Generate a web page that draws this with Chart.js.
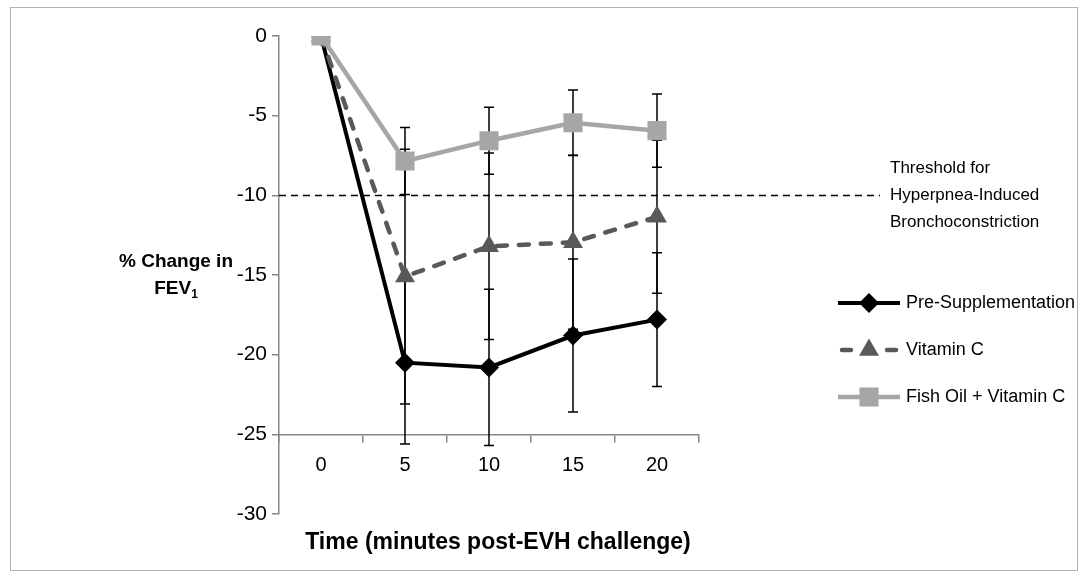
<!DOCTYPE html>
<html>
<head>
<meta charset="utf-8">
<script src="https://cdn.jsdelivr.net/npm/chart.js@4.4.0/dist/chart.umd.min.js"></script>
<style>
  html, body { margin: 0; padding: 0; background: #fff; }
</style>
</head>
<body>
<canvas id="chart" width="1087" height="578"></canvas>
<script>
// time points (minutes post-EVH challenge)
const timeLabels = ['0', '5', '10', '15', '20'];

// % change in FEV1, mean and error per group
const preValues = [0, -20.5, -20.8, -18.8, -17.8];
const preErrors = [0, 5.1, 4.9, 4.8, 4.2];
const vitCValues = [0, -15.1, -13.2, -12.95, -11.35];
const vitCErrors = [0, 8.0, 5.85, 5.45, 4.8];
const fishValues = [0, -7.85, -6.57, -5.44, -5.94];
const fishErrors = [0, 2.1, 2.1, 2.05, 2.3];

const seriesNames = ['Pre-Supplementation', 'Vitamin C', 'Fish Oil + Vitamin C'];
const thresholdValue = -10;
const thresholdText = ['Threshold for', 'Hyperpnea-Induced', 'Bronchoconstriction'];
const yMin = -30, yMax = 0, yStep = 5;
const xAxisCrossing = -25;

const FONT = '"Liberation Sans", Arial, sans-serif';
const AXIS_GRAY = '#868686';

function markerPath(ctx, style, x, y, r) {
  ctx.beginPath();
  if (style === 'rectRot') {
    ctx.moveTo(x, y - r); ctx.lineTo(x + r, y); ctx.lineTo(x, y + r); ctx.lineTo(x - r, y);
  } else if (style === 'triangle') {
    for (let i = 0; i < 3; i++) {
      const a = i * 2 * Math.PI / 3;
      const px = x + Math.sin(a) * r, py = y - Math.cos(a) * r;
      if (i === 0) ctx.moveTo(px, py); else ctx.lineTo(px, py);
    }
  } else {
    const s = r * Math.SQRT1_2;
    ctx.rect(x - s, y - s, 2 * s, 2 * s);
  }
  ctx.closePath();
}

const extras = {
  id: 'extras',
  beforeDraw(chart) {
    const ctx = chart.ctx;
    ctx.save();
    ctx.fillStyle = '#fff';
    ctx.fillRect(0, 0, chart.width, chart.height);
    ctx.strokeStyle = '#b3b3b3';
    ctx.lineWidth = 1;
    ctx.strokeRect(10.5, 7.5, 1067, 563);
    ctx.restore();
  },
  beforeDatasetsDraw(chart) {
    const ctx = chart.ctx;
    const x = chart.scales.x, y = chart.scales.y;
    // threshold line
    const ty = Math.round(y.getPixelForValue(thresholdValue)) + 0.5;
    ctx.save();
    ctx.strokeStyle = '#000';
    ctx.lineWidth = 1.5;
    ctx.setLineDash([7, 5]);
    ctx.beginPath();
    ctx.moveTo(chart.chartArea.left, ty);
    ctx.lineTo(880, ty);
    ctx.stroke();
    ctx.setLineDash([]);
    // error bars
    const groups = [[preValues, preErrors], [vitCValues, vitCErrors], [fishValues, fishErrors]];
    ctx.lineWidth = 1.5;
    groups.forEach(([vals, errs]) => {
      vals.forEach((v, i) => {
        if (!errs[i]) return;
        const px = Math.round(x.getPixelForValue(i));
        const top = y.getPixelForValue(v + errs[i]);
        const bot = y.getPixelForValue(v - errs[i]);
        ctx.beginPath();
        ctx.moveTo(px, top); ctx.lineTo(px, bot);
        ctx.moveTo(px - 5, top); ctx.lineTo(px + 5, top);
        ctx.moveTo(px - 5, bot); ctx.lineTo(px + 5, bot);
        ctx.stroke();
      });
    });
    ctx.restore();
  },
  afterDraw(chart) {
    const ctx = chart.ctx;
    const ty = chart.scales.y.getPixelForValue(thresholdValue);
    ctx.save();
    ctx.fillStyle = '#000';
    ctx.textBaseline = 'middle';
    ctx.textAlign = 'left';
    ctx.font = '17px ' + FONT;
    thresholdText.forEach((t, i) => ctx.fillText(t, 890, ty + (i - 1) * 27));

    // legend
    const rows = [303, 350, 397];
    chart.data.datasets.forEach((ds, i) => {
      const ry = rows[i];
      ctx.strokeStyle = ds.borderColor;
      ctx.lineWidth = ds.borderWidth;
      ctx.lineCap = ds.borderCapStyle || 'butt';
      ctx.beginPath();
      if (ds.borderDash) {
        ctx.moveTo(842, ry); ctx.lineTo(851, ry);
        ctx.moveTo(887, ry); ctx.lineTo(896, ry);
      } else {
        ctx.moveTo(838, ry); ctx.lineTo(900, ry);
      }
      ctx.stroke();
      markerPath(ctx, ds.pointStyle, 869, ry, ds.pointRadius);
      ctx.fillStyle = ds.backgroundColor;
      ctx.fill();
      ctx.fillStyle = '#000';
      ctx.font = '18px ' + FONT;
      ctx.fillText(ds.label, 906, ry);
    });

    // axis titles
    ctx.textAlign = 'center';
    ctx.font = 'bold 19px ' + FONT;
    ctx.fillText('% Change in', 176, 262);
    const w1 = ctx.measureText('FEV').width;
    ctx.font = 'bold 12px ' + FONT;
    const w2 = ctx.measureText('1').width;
    ctx.textAlign = 'left';
    ctx.font = 'bold 19px ' + FONT;
    const sx = 176 - (w1 + w2) / 2;
    ctx.fillText('FEV', sx, 289);
    ctx.font = 'bold 12px ' + FONT;
    ctx.fillText('1', sx + w1, 295);
    ctx.textAlign = 'center';
    ctx.font = 'bold 23px ' + FONT;
    ctx.fillText('Time (minutes post-EVH challenge)', 498, 543);
    ctx.restore();
  }
};

new Chart(document.getElementById('chart'), {
  type: 'line',
  data: {
    labels: timeLabels,
    datasets: [
      {
        label: seriesNames[0], data: preValues, order: 3,
        borderColor: '#000000', backgroundColor: '#000000', borderWidth: 4,
        pointStyle: 'rectRot', pointRadius: 10, pointBorderWidth: 0, tension: 0
      },
      {
        label: seriesNames[1], data: vitCValues, order: 2,
        borderColor: '#595959', backgroundColor: '#595959', borderWidth: 4.5,
        borderDash: [10, 12], borderCapStyle: 'round',
        pointStyle: 'triangle', pointRadius: 11.5, pointBorderWidth: 0, tension: 0
      },
      {
        label: seriesNames[2], data: fishValues, order: 1,
        borderColor: '#a6a6a6', backgroundColor: '#a6a6a6', borderWidth: 4.5,
        pointStyle: 'rect', pointRadius: 13.5, pointBorderWidth: 0, tension: 0
      }
    ]
  },
  options: {
    responsive: false,
    devicePixelRatio: 1,
    animation: false,
    layout: { padding: { left: 227, right: 388, top: 36, bottom: 64 } },
    plugins: { legend: { display: false }, tooltip: { enabled: false } },
    scales: {
      x: {
        type: 'category',
        position: { y: xAxisCrossing },
        offset: true,
        grid: { offset: true, drawOnChartArea: false, tickLength: 7, color: AXIS_GRAY, lineWidth: 1.5 },
        border: { color: AXIS_GRAY, width: 1.5 },
        ticks: { color: '#000', font: { family: FONT, size: 20 }, padding: 12, maxRotation: 0 }
      },
      y: {
        min: yMin, max: yMax,
        afterFit(scale) { scale.width = 52; },
        grid: { drawOnChartArea: false, tickLength: 7, color: AXIS_GRAY, lineWidth: 1.5 },
        border: { color: AXIS_GRAY, width: 1.5 },
        ticks: { stepSize: yStep, color: '#000', font: { family: FONT, size: 21 }, padding: 5 }
      }
    }
  },
  plugins: [extras]
});
</script>
</body>
</html>
